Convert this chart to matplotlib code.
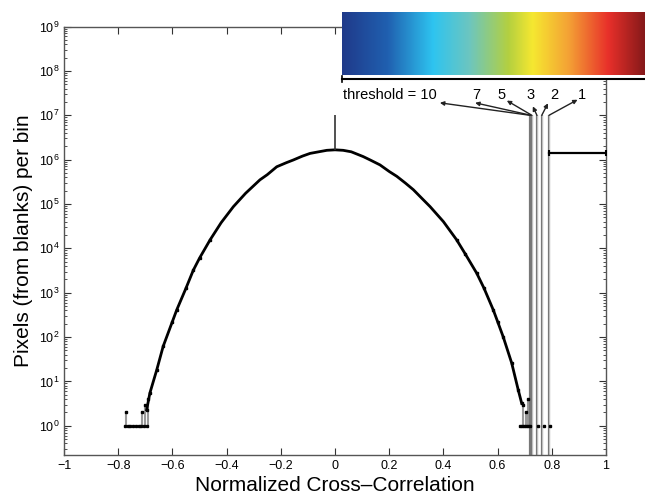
import numpy as np
import matplotlib
matplotlib.use("Agg")
import matplotlib.pyplot as plt
from matplotlib.colors import LinearSegmentedColormap
from matplotlib.ticker import LogLocator, FixedLocator, NullFormatter, FixedFormatter

plt.rcParams['font.family'] = ['Liberation Sans', 'DejaVu Sans']

# ---- data ----
curve_x = [-0.695, -0.683, -0.658, -0.634, -0.60, -0.584, -0.55, -0.523, -0.50, -0.461,
           -0.42, -0.375, -0.33, -0.277, -0.25, -0.215, -0.18, -0.154, -0.12, -0.092,
           -0.06, -0.03, 0.0, 0.03, 0.06, 0.104, 0.13, 0.166, 0.20, 0.228, 0.26, 0.289,
           0.32, 0.351, 0.40, 0.449, 0.48, 0.523, 0.55, 0.584, 0.60, 0.621, 0.652, 0.676, 0.689]
curve_y = [2.3, 5.5, 18, 62, 224, 410, 1260, 3200, 6000, 15500,
           38000, 87000, 174000, 350000, 457000, 690000, 850000, 980000, 1200000, 1380000,
           1500000, 1620000, 1660000, 1620000, 1500000, 1170000, 980000, 760000, 540000, 420000, 295000, 210000,
           135000, 87000, 40000, 15500, 7600, 2750, 1260, 410, 224, 100, 26, 6.5, 3.2]

left_tail_x = [-0.775, -0.765, -0.755, -0.745, -0.735, -0.725, -0.715, -0.705, -0.695, -0.77, -0.712, -0.70, -0.69]
left_tail_y = [1, 1, 1, 1, 1, 1, 1, 1, 1, 2, 2, 3, 4]
right_tail_x = [0.683, 0.69, 0.697, 0.704, 0.711, 0.718, 0.75, 0.77, 0.794, 0.695, 0.705, 0.712]
right_tail_y = [1, 1, 1, 1, 1, 1, 1, 1, 1, 3, 2, 4]

spike_x = 0.0
spike_top = 1e7

thresholds = ["10", "7", "5", "3", "2", "1"]
threshold_x = [0.718, 0.722, 0.726, 0.745, 0.763, 0.79]
threshold_top = 1e7

above_x = [0.79, 1.0]
above_y = 1.44e6

x_ticks = [-1, -0.8, -0.6, -0.4, -0.2, 0, 0.2, 0.4, 0.6, 0.8, 1]
x_labels = ["\u22121", "\u22120.8", "\u22120.6", "\u22120.4", "\u22120.2", "0", "0.2", "0.4", "0.6", "0.8", "1"]

W, H = 645, 499
fig = plt.figure(figsize=(W / 100, H / 100), dpi=100)
ax = fig.add_axes([64 / W, 1 - 455 / H, (606 - 64) / W, (455 - 26.5) / H])

ax.set_yscale('log')
ax.set_xlim(-1, 1)
ax.set_ylim(0.22, 1e9)

# threshold lines
for tx in threshold_x:
    ax.vlines(tx, 0.01, threshold_top, color='#777777', lw=1.6, zorder=2)
    ax.vlines(tx, 0.01, threshold_top, color='#dddddd', lw=0.5, zorder=2)

# tail histogram bars (from 1 upward)
ax.vlines(left_tail_x, 1, left_tail_y, color='#999999', lw=1.5, zorder=1)
ax.vlines(right_tail_x, 1, right_tail_y, color='#999999', lw=1.5, zorder=1)

ax.plot(curve_x, curve_y, color='black', lw=2.0, zorder=3)
ax.plot(curve_x[:10], curve_y[:10], 's', color='black', ms=1.8, zorder=3)
ax.plot(curve_x[-10:], curve_y[-10:], 's', color='black', ms=1.8, zorder=3)
ax.plot(left_tail_x, left_tail_y, 's', color='black', ms=2, zorder=3)
ax.plot(right_tail_x, right_tail_y, 's', color='black', ms=2, zorder=3)

ax.vlines(spike_x, max(curve_y), spike_top, color='#333333', lw=1.2, zorder=3)

ax.plot(above_x, [above_y, above_y], color='black', lw=1.6, zorder=3)
ax.plot(above_x, [above_y, above_y], '|', color='black', ms=5, mew=1.5, zorder=3)

# ticks
ax.xaxis.set_major_locator(FixedLocator(x_ticks))
ax.xaxis.set_major_formatter(FixedFormatter(x_labels))
ax.yaxis.set_major_locator(LogLocator(base=10, numticks=20))
ax.yaxis.set_minor_locator(LogLocator(base=10, subs=np.arange(2, 10), numticks=20))
ax.yaxis.set_minor_formatter(NullFormatter())
ax.tick_params(which='both', direction='in', top=True, right=True, colors='#333333',
               labelsize=9, labelcolor='black')
ax.tick_params(which='major', length=5)
ax.tick_params(which='minor', length=2.5)
for s in ax.spines.values():
    s.set_color('#555555')
    s.set_linewidth(1.0)

ax.set_xlabel("Normalized Cross\u2013Correlation", fontsize=15, labelpad=3)
ax.set_ylabel("Pixels (from blanks) per bin", fontsize=15, labelpad=4)

# annotations
label_pos = [(0.03, 10**7.45), (0.505, 10**7.45), (0.60, 10**7.45), (0.705, 10**7.45), (0.795, 10**7.45), (0.895, 10**7.45)]
head_pos = [(0.387, 10**7.28), (0.517, 10**7.28), (0.634, 10**7.33), (0.73, 10**7.2), (0.786, 10**7.27), (0.895, 10**7.35)]
for i, (lab, tx) in enumerate(zip(thresholds, threshold_x)):
    text = "threshold = " + lab if i == 0 else lab
    ax.text(label_pos[i][0], label_pos[i][1], text, fontsize=10.5, ha='left', va='center', zorder=5)
    ax.annotate("", xy=head_pos[i], xytext=(tx, threshold_top),
                arrowprops=dict(arrowstyle='-|>', color='#222222', lw=1.0,
                                mutation_scale=6, shrinkA=0, shrinkB=0), zorder=5)

# colour bar across the top right
cmap = LinearSegmentedColormap.from_list('spec', [
    (0.0, '#1f3a8a'), (0.15, '#2060b0'), (0.3, '#2ec4f0'), (0.42, '#6cc6c0'),
    (0.55, '#b4d040'), (0.63, '#f6e830'), (0.75, '#f4a135'), (0.88, '#e8302a'),
    (1.0, '#86191a')])
cax = fig.add_axes([342 / W, 1 - 75 / H, (W - 342) / W, 63 / H], zorder=10)
cax.imshow(np.linspace(0, 1, 256)[None, :], aspect='auto', cmap=cmap)
cax.set_axis_off()
fig.add_artist(plt.Line2D([342 / W, 1.0], [1 - 79 / H, 1 - 79 / H], color='black', lw=1.5, zorder=11))
fig.add_artist(plt.Line2D([342 / W, 342 / W], [1 - 82 / H, 1 - 76 / H], color='black', lw=1.2, zorder=11))
fig.patches.append(plt.Rectangle((342 / W, 1 - 78 / H), (W - 342) / W, 3 / H,
                                 transform=fig.transFigure, color='white', zorder=9))

fig.savefig("out.png", dpi=100)
